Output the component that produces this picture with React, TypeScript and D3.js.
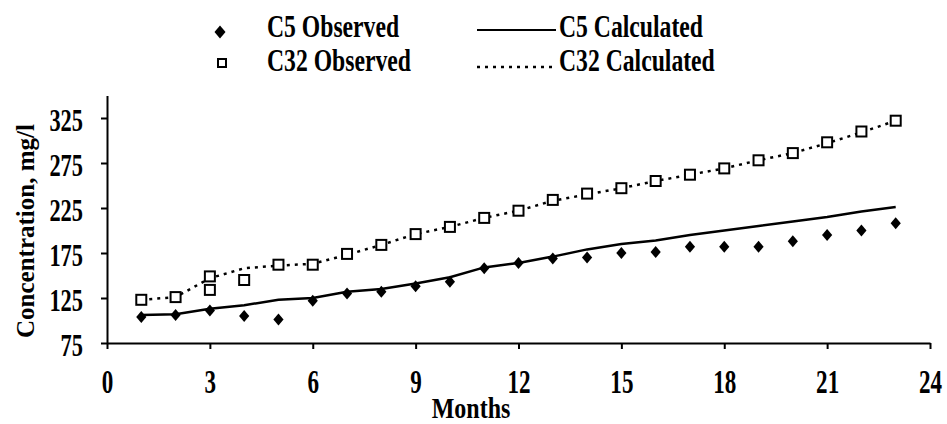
import React, { useEffect, useRef } from 'react'
import * as d3 from 'd3'

// values
const months = [1, 2, 3, 4, 5, 6, 7, 8, 9, 10, 11, 12, 13, 14, 15, 16, 17, 18, 19, 20, 21, 22, 23]
const c5Observed = [104, 106, 111, 105, 101, 122, 130, 132, 138, 143, 158, 164, 169, 170, 175, 176, 182, 182, 182, 188, 195, 200, 208]
const c5Calculated = [106, 107, 113, 117, 123, 125, 132, 135, 141, 148, 159, 164, 171, 179, 185, 189, 195, 200, 205, 210, 215, 221, 226]
const c32ObservedMonths = [1, 2, 3, 3, 4, 5, 6, 7, 8, 9, 10, 11, 12, 13, 14, 15, 16, 17, 18, 19, 20, 21, 22, 23]
const c32Observed = [123, 126, 149, 134, 145, 162, 162, 174, 184, 196, 204, 214, 222, 234, 241, 247, 255, 262, 269, 278, 286, 298, 310, 322]
const c32Calculated = [123, 126, 147, 158, 161, 163, 173, 184, 196, 204, 214, 222, 233, 240, 247, 255, 262, 269, 278, 286, 297, 309, 322]

const xTicks = [0, 3, 6, 9, 12, 15, 18, 21, 24]
const yTicks = [75, 125, 175, 225, 275, 325]

const WIDTH = 947
const HEIGHT = 424
const FONT = '"Liberation Serif", "Times New Roman", serif'

const diamond = (s: number) => `M0,${-s}L${s * 0.85},0L0,${s}L${-s * 0.85},0Z`

const App = () => {
    const ref = useRef<SVGSVGElement>(null)

    useEffect(() => {
        const svg = d3.select(ref.current)
        svg.selectAll('*').remove()

        const x = d3.scaleLinear().domain([0, 24]).range([107, 930])
        const y = d3.scaleLinear().domain([75, 350]).range([343, 95.5])

        // x axis
        const xAxis = svg
            .append('g')
            .attr('transform', `translate(0, ${y(75)})`)
            .call(d3.axisBottom(x).tickValues(xTicks).tickSize(6).tickSizeOuter(0))
        xAxis.select('.domain').attr('stroke-width', 2)
        xAxis.selectAll('line').attr('stroke-width', 2)
        xAxis
            .selectAll('text')
            .attr('y', 0)
            .attr('dy', 0)
            .attr('font-family', FONT)
            .attr('font-weight', 'bold')
            .attr('font-size', 33)
            .attr('transform', 'translate(0, 50) scale(0.7, 1)')

        // y axis
        const yAxis = svg
            .append('g')
            .attr('transform', `translate(${x(0)}, 0)`)
            .call(d3.axisLeft(y).tickValues(yTicks).tickSize(6).tickSizeOuter(0))
        yAxis.select('.domain').attr('stroke-width', 2)
        yAxis.selectAll('line').attr('stroke-width', 2)
        yAxis
            .selectAll('text')
            .attr('x', 0)
            .attr('dy', 0)
            .attr('font-family', FONT)
            .attr('font-weight', 'bold')
            .attr('font-size', 32)
            .attr('transform', 'translate(-24, 12) scale(0.7, 1)')

        // axis titles
        svg
            .append('text')
            .text('Months')
            .attr('font-family', FONT)
            .attr('font-weight', 'bold')
            .attr('font-size', 30)
            .attr('text-anchor', 'middle')
            .attr('transform', 'translate(471, 418) scale(0.8, 1)')

        svg
            .append('text')
            .text('Concentration, mg/l')
            .attr('font-family', FONT)
            .attr('font-weight', 'bold')
            .attr('font-size', 25)
            .attr('text-anchor', 'middle')
            .attr('transform', 'translate(34, 231) rotate(-90)')

        // calculated lines
        const line = d3
            .line<number>()
            .x((d, i) => x(months[i]))
            .y(d => y(d))

        svg
            .append('path')
            .datum(c5Calculated)
            .attr('d', line)
            .attr('fill', 'none')
            .attr('stroke', '#000')
            .attr('stroke-width', 2.5)

        svg
            .append('path')
            .datum(c32Calculated)
            .attr('d', line)
            .attr('fill', 'none')
            .attr('stroke', '#000')
            .attr('stroke-width', 2.5)
            .attr('stroke-dasharray', '3,5')

        // observed markers
        svg
            .selectAll('path.c5')
            .data(c5Observed)
            .enter()
            .append('path')
            .classed('c5', true)
            .attr('d', diamond(6))
            .attr('transform', (d, i) => `translate(${x(months[i])}, ${y(d)})`)
            .attr('fill', '#000')

        svg
            .selectAll('rect.c32')
            .data(c32Observed)
            .enter()
            .append('rect')
            .classed('c32', true)
            .attr('x', (d, i) => x(c32ObservedMonths[i]) - 5)
            .attr('y', d => y(d) - 5)
            .attr('width', 10)
            .attr('height', 10)
            .attr('fill', '#fff')
            .attr('stroke', '#000')
            .attr('stroke-width', 2)

        // legend
        const legend = svg.append('g')
        legend.append('path').attr('d', diamond(6.5)).attr('transform', 'translate(220, 32)').attr('fill', '#000')
        legend
            .append('rect')
            .attr('x', 218)
            .attr('y', 59)
            .attr('width', 8)
            .attr('height', 8)
            .attr('fill', '#fff')
            .attr('stroke', '#000')
            .attr('stroke-width', 2)
        legend.append('line').attr('x1', 477).attr('x2', 556).attr('y1', 30).attr('y2', 30).attr('stroke', '#000').attr('stroke-width', 2)
        legend
            .append('line')
            .attr('x1', 477)
            .attr('x2', 556)
            .attr('y1', 67)
            .attr('y2', 67)
            .attr('stroke', '#000')
            .attr('stroke-width', 2.5)
            .attr('stroke-dasharray', '3,5')

        const labels = [
            { t: 'C5 Observed', x: 267, y: 37 },
            { t: 'C32 Observed', x: 267, y: 71 },
            { t: 'C5 Calculated', x: 559, y: 37 },
            { t: 'C32 Calculated', x: 559, y: 71 },
        ]
        legend
            .selectAll('text')
            .data(labels)
            .enter()
            .append('text')
            .text(d => d.t)
            .attr('font-family', FONT)
            .attr('font-weight', 'bold')
            .attr('font-size', 32)
            .attr('transform', d => `translate(${d.x}, ${d.y}) scale(0.74, 1)`)
    }, [])

    return (
        <svg
            ref={ref}
            width={WIDTH}
            height={HEIGHT}
            style={{ position: 'absolute', left: 0, top: 0, background: '#fff' }}
        ></svg>
    )
}

export default App
